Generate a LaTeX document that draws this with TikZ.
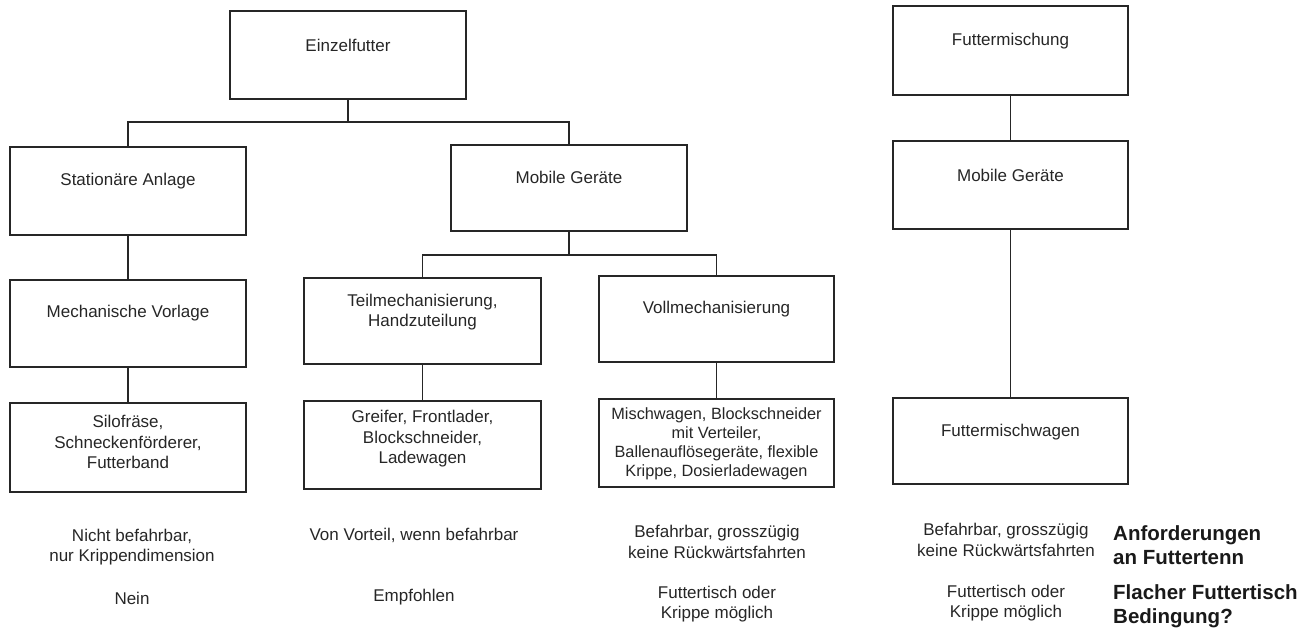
\documentclass[tikz,border=0pt]{standalone}
\usepackage{fontspec}
\setmainfont{Liberation Sans}
\begin{document}
\begin{tikzpicture}[x=1pt,y=-1pt,
  box/.style={draw=black!85, line width=1.8pt, minimum width=236pt, minimum height=88pt, inner sep=0pt},
  conn/.style={draw=black!85, line width=1.8pt},
  lbl/.style={font=\fontsize{17}{20.5}\selectfont, text=black!85, align=center, inner sep=0pt},
  small/.style={font=\fontsize{16.3}{19}\selectfont, text=black!85, align=center, inner sep=0pt},
  bold/.style={font=\fontsize{20.5}{24.5}\selectfont\bfseries, text=black!90, align=left, anchor=west, inner sep=0pt}
]
\useasboundingbox (0,0) rectangle (1316,629);

% boxes
\node[box] (ez) at (348,55) {};
\node[box] (st) at (128,191) {};
\node[box, minimum height=86pt] (mb) at (569,188) {};
\node[box, minimum height=87pt] (mv) at (128,323.5) {};
\node[box, minimum width=237pt, minimum height=86pt] (tm) at (422.5,321) {};
\node[box, minimum width=235pt, minimum height=86pt] (vm) at (716.5,319) {};
\node[box, minimum height=89pt] (sf) at (128,447.5) {};
\node[box, minimum width=237pt] (gr) at (422.5,445) {};
\node[box, minimum width=235pt] (mw) at (716.5,443) {};
\node[box, minimum width=235pt, minimum height=89pt] (fm) at (1010.5,50.5) {};
\node[box, minimum width=235pt] (mb2) at (1010.5,185) {};
\node[box, minimum width=235pt, minimum height=86pt] (fmw) at (1010.5,441) {};

% box texts
\node[lbl] (tez) at (348,45) {Einzelfutter};
\node[lbl] (tst) at (128,181) {Stationäre Anlage};
\node[lbl] (tmb) at (569,177) {Mobile Geräte};
\node[lbl] (tmv) at (128,313) {Mechanische Vorlage};
\node[lbl] (ttm) at (422.5,312) {Teilmechanisierung,\\Handzuteilung};
\node[lbl] (tvm) at (716.5,309) {Vollmechanisierung};
\node[lbl] (tsf) at (128,442) {Silofräse,\\Schneckenförderer,\\Futterband};
\node[lbl] (tgr) at (422.5,439) {Greifer, Frontlader,\\Blockschneider,\\Ladewagen};
\node[small] (tmw) at (716.5,443.5) {Mischwagen, Blockschneider\\mit Verteiler,\\Ballenauflösegeräte, flexible\\Krippe, Dosierladewagen};
\node[lbl] (tfm) at (1010.5,41) {Futtermischung};
\node[lbl] (tmb2) at (1010.5,175) {Mobile Geräte};
\node[lbl] (tfmw) at (1010.5,432) {Futtermischwagen};

% connectors
\coordinate (j1) at (348,122);
\coordinate (j2) at (569,255);
\draw[conn] (ez.south) -- (j1);
\draw[conn] (st.north) |- (j1) -| (mb.north);
\draw[conn] (mb.south) -- (j2);
\draw[conn] (tm.north) |- (j2) -| (vm.north);
\draw[conn] (st.south) -- (mv.north);
\draw[conn] (mv.south) -- (sf.north);
\draw[conn] (tm.south) -- (gr.north);
\draw[conn] (vm.south) -- (mw.north);
\draw[conn] (fm.south) -- (mb2.north);
\draw[conn] (mb2.south) -- (fmw.north);

% bottom texts
\node[lbl] (a1) at (132,547) {Nicht befahrbar,\\nur Krippendimension};
\node[lbl] (b1) at (132,598) {Nein};
\node[lbl] (a2) at (414,535) {Von Vorteil, wenn befahrbar};
\node[lbl] (b2) at (414,597) {Empfohlen};
\node[lbl] (a3) at (717,542) {Befahrbar, grosszügig\\keine Rückwärtsfahrten};
\node[lbl] (b3) at (717,604) {Futtertisch oder\\Krippe möglich};
\node[lbl] (a4) at (1006,540) {Befahrbar, grosszügig\\keine Rückwärtsfahrten};
\node[lbl] (b4) at (1006,603) {Futtertisch oder\\Krippe möglich};
\node[bold] (ra) at (1113,545) {Anforderungen\\an Futtertenn};
\node[bold] (rb) at (1113,606) {Flacher Futtertisch\\Bedingung?};
\end{tikzpicture}
\end{document}
